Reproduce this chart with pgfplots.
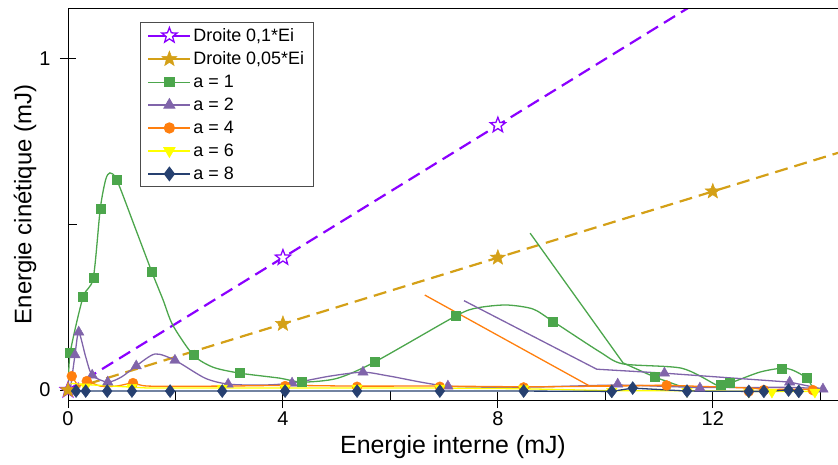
\documentclass[border=0pt]{standalone}
\usepackage{fontspec}
\setmainfont{Liberation Sans}
\usepackage{pgfplots}
\pgfplotsset{compat=1.18}
\usetikzlibrary{plotmarks}
\definecolor{cV}{RGB}{139,0,255}
\definecolor{cG}{RGB}{212,160,23}
\definecolor{c1}{RGB}{76,166,76}
\definecolor{c2}{RGB}{128,100,170}
\definecolor{c4}{RGB}{255,127,14}
\definecolor{c6}{RGB}{255,255,0}
\definecolor{c8}{RGB}{38,64,112}
\pgfdeclareplotmark{fstar}{%
  \pgfpathmoveto{\pgfpointpolar{90}{\pgfplotmarksize}}%
  \pgfpathlineto{\pgfpointpolar{126}{0.42*\pgfplotmarksize}}%
  \pgfpathlineto{\pgfpointpolar{162}{\pgfplotmarksize}}%
  \pgfpathlineto{\pgfpointpolar{198}{0.42*\pgfplotmarksize}}%
  \pgfpathlineto{\pgfpointpolar{234}{\pgfplotmarksize}}%
  \pgfpathlineto{\pgfpointpolar{270}{0.42*\pgfplotmarksize}}%
  \pgfpathlineto{\pgfpointpolar{306}{\pgfplotmarksize}}%
  \pgfpathlineto{\pgfpointpolar{342}{0.42*\pgfplotmarksize}}%
  \pgfpathlineto{\pgfpointpolar{18}{\pgfplotmarksize}}%
  \pgfpathlineto{\pgfpointpolar{54}{0.42*\pgfplotmarksize}}%
  \pgfpathclose
  \pgfusepathqfillstroke
}
\begin{document}
\begin{tikzpicture}
\begin{axis}[
  name=ax,
  scale only axis, width=770bp, height=391bp,
  xmin=0, xmax=14.33, ymin=-0.030, ymax=1.151,
  axis x line*=bottom, axis y line*=left,
  axis line style={black, line width=1bp},
  xtick={0,4,8,12}, minor xtick={2,6,10,14},
  ytick={0,1}, minor ytick={0.5},
  tick align=center, major tick length=16bp, minor tick length=9bp,
  tick style={black, line width=1bp},
  minor x tick style={yshift=4.5bp},
  minor y tick style={xshift=4.5bp},
  /pgf/number format/assume math mode=true,
  tick label style={font=\fontsize{20}{24}\selectfont},
  yticklabel style={xshift=-6bp},
  xlabel={Energie interne (mJ)},
  ylabel={Energie cinétique (mJ)},
  xlabel style={font=\fontsize{25}{30}\selectfont, at={(axis description cs:0.5,-0.1202)}, anchor=center},
  ylabel style={font=\fontsize{24}{29}\selectfont, at={(axis description cs:-0.0558,0.5)}, anchor=center},
  legend image code/.code={\draw[mark repeat=2,mark phase=2,#1] plot coordinates {(0bp,0bp) (21bp,0bp) (42bp,0bp)};},
  legend style={at={(rel axis cs:0.0935,0.967)}, anchor=north west, draw=black!70, line width=0.8bp,
    font=\fontsize{18}{21}\selectfont, row sep=5bp, inner xsep=7bp, inner ysep=4bp, cells={anchor=west}},
  legend cell align=left,
]
% legend images
\addlegendimage{cV, line width=2bp, mark=fstar, mark size=8bp, mark options={fill=white, line width=1.3bp}}
\addlegendentry{Droite 0,1*Ei}
\addlegendimage{cG, line width=2bp, mark=fstar, mark size=8bp, mark options={fill=cG, line width=0.5bp}}
\addlegendentry{Droite 0,05*Ei}
\addlegendimage{c1, line width=1.3bp, mark=square*, mark size=4.5bp}
\addlegendentry{a = 1}
\addlegendimage{c2, line width=1.3bp, mark=triangle*, mark size=6bp}
\addlegendentry{a = 2}
\addlegendimage{c4, line width=1.3bp, mark=*, mark size=5bp}
\addlegendentry{a = 4}
\addlegendimage{c6, line width=1.3bp, mark=triangle*, mark size=6bp, mark options={rotate=180}}
\addlegendentry{a = 6}
\addlegendimage{c8, line width=1.3bp, mark=diamond*, mark size=6.5bp}
\addlegendentry{a = 8}

% Droite 0,1*Ei
\addplot[forget plot, cV, line width=2.2bp, dash pattern=on 13bp off 7bp] coordinates {(0,0) (14.33,1.433)};
\addplot[forget plot, only marks, mark=fstar, mark size=8bp, mark options={draw=cV, fill=white, line width=1.3bp}] coordinates {(0,0) (4,0.4) (8,0.8)};
% Droite 0,05*Ei
\addplot[forget plot, cG, line width=2.2bp, dash pattern=on 13bp off 7bp] coordinates {(0,0) (14.33,0.7165)};
\addplot[forget plot, only marks, mark=fstar, mark size=8bp, mark options={draw=cG, fill=cG, line width=0.5bp}] coordinates {(0,0) (4,0.2) (8,0.4) (12,0.6)};

% a = 1
\addplot[forget plot, c1, line width=1.3bp, smooth, tension=0.45] coordinates {
(0.01,0.01) (0.04,0.112) (0.28,0.281) (0.47,0.338) (0.60,0.547) (0.70,0.635) (0.78,0.656) (0.91,0.634)
(1.25,0.49) (1.56,0.357) (1.77,0.272) (1.95,0.196) (2.33,0.106) (2.70,0.069) (3.20,0.051) (3.94,0.036)
(4.35,0.024) (5.0,0.035) (5.71,0.085) (7.22,0.224) (7.61,0.248) (8.15,0.257) (8.65,0.245) (9.02,0.208)
(9.90,0.115) (10.33,0.079) (11.42,0.066) (12.07,0.015) (12.15,0.015) (12.32,0.021) (12.87,0.054)
(13.28,0.066) (13.49,0.06) (13.75,0.036) (13.86,0.006)};
\addplot[forget plot, c1, line width=1.3bp, sharp plot] coordinates {
(8.60,0.474) (10.33,0.082) (10.92,0.039) (11.39,0.012) (11.76,0.006)};
\addplot[forget plot, only marks, mark=square*, mark size=4.5bp, c1] coordinates {
(0.04,0.112) (0.28,0.281) (0.47,0.338) (0.60,0.547) (0.91,0.634) (1.56,0.357) (2.33,0.106) (3.20,0.051)
(4.35,0.024) (5.71,0.085) (7.22,0.224) (9.02,0.208) (10.92,0.039) (12.15,0.015) (12.32,0.021)
(13.28,0.066) (13.75,0.036)};

% a = 2
\addplot[forget plot, c2, line width=1.3bp, smooth, tension=0.45] coordinates {
(0.05,0.01) (0.13,0.106) (0.20,0.175) (0.33,0.10) (0.45,0.045) (0.74,0.024) (1.0,0.04) (1.27,0.073)
(1.62,0.109) (1.99,0.09) (2.55,0.036) (2.98,0.018) (3.6,0.015) (4.17,0.021) (4.87,0.042) (5.49,0.054)
(5.99,0.042) (7.07,0.012) (8.6,0.009) (10.23,0.015) (11.76,0.008) (13.43,0.008) (14.05,0.003)};
\addplot[forget plot, c2, line width=1.3bp, sharp plot] coordinates {
(7.37,0.27) (9.84,0.063) (11.1,0.051) (13.43,0.024) (14.05,0.003)};
\addplot[forget plot, only marks, mark=triangle*, mark size=6bp, c2] coordinates {
(0.13,0.106) (0.20,0.175) (0.45,0.045) (0.74,0.024) (1.27,0.073) (1.99,0.09) (2.98,0.018) (4.17,0.021)
(5.49,0.054) (7.07,0.012) (10.23,0.018) (11.1,0.051) (11.76,0.006) (13.43,0.024) (14.05,0.003)};

% a = 4
\addplot[forget plot, c4, line width=1.3bp, smooth, tension=0.45] coordinates {
(0.03,0.03) (0.07,0.042) (0.2,0.012) (0.35,0.027) (0.6,0.012) (0.9,0.012) (1.21,0.021) (1.5,0.012)
(2.87,0.012) (4.04,0.014) (5.38,0.012) (6.92,0.012) (8.48,0.01) (10.12,0.012) (11.14,0.014)
(12.67,0.006) (13.0,0.002) (13.9,0.003)};
\addplot[forget plot, c4, line width=1.3bp, sharp plot] coordinates {
(6.64,0.287) (9.71,0.012) (10.2,0.014) (11.14,0.014)};
\addplot[forget plot, only marks, mark=*, mark size=5bp, c4] coordinates {
(0.07,0.042) (0.35,0.027) (1.21,0.021) (4.04,0.012) (5.38,0.01) (6.92,0.01) (8.48,0.008)
(11.14,0.014) (12.67,-0.004) (12.95,0.0) (13.86,0.0)};

% a = 6
\addplot[forget plot, c6, line width=1.3bp, sharp plot] coordinates {
(0.05,0.02) (0.5,0.015) (1.5,0.006) (2.87,0.006) (4.04,0.006) (5.38,0.006) (6.92,0.006) (8.48,0.004)
(10.12,-0.002) (11.52,-0.002) (12.67,-0.004) (13.1,-0.004) (13.9,-0.004)};
\addplot[forget plot, only marks, mark=triangle*, mark size=6bp, mark options={rotate=180}, c6] coordinates {
(0.33,0.01) (1.19,0.008) (2.87,0.006) (4.04,0.006) (5.38,0.006) (6.92,0.006) (8.48,0.004)
(10.12,-0.004) (11.52,-0.004) (12.67,-0.006) (13.1,-0.006) (13.9,-0.006)};

% a = 8
\addplot[forget plot, c8, line width=1.3bp, sharp plot] coordinates {
(0.0,-0.002) (0.15,-0.003) (0.33,-0.003) (0.73,-0.003) (1.19,-0.003) (1.90,-0.003) (2.87,-0.003)
(4.04,-0.003) (5.38,-0.003) (6.92,-0.003) (8.48,-0.003) (10.12,-0.004) (10.51,0.006) (11.52,-0.003)
(12.67,-0.004) (12.95,-0.004) (13.41,0.0) (13.6,-0.004)};
\addplot[forget plot, only marks, mark=diamond*, mark size=6.5bp, c8] coordinates {
(0.15,-0.003) (0.33,-0.003) (0.73,-0.003) (1.19,-0.003) (1.90,-0.003) (2.87,-0.003)
(4.04,-0.003) (5.38,-0.003) (6.92,-0.003) (8.48,-0.003) (10.12,-0.004) (10.51,0.006) (11.52,-0.003)
(12.67,-0.004) (12.95,-0.004) (13.41,0.0) (13.6,-0.004)};
\end{axis}
\draw[black, line width=1bp] (ax.north west) -- (ax.north east);
\pgfresetboundingbox
\path[use as bounding box] ([xshift=-68bp,yshift=-65bp]ax.south west) rectangle ([yshift=9bp]ax.north east);
\end{tikzpicture}
\end{document}
